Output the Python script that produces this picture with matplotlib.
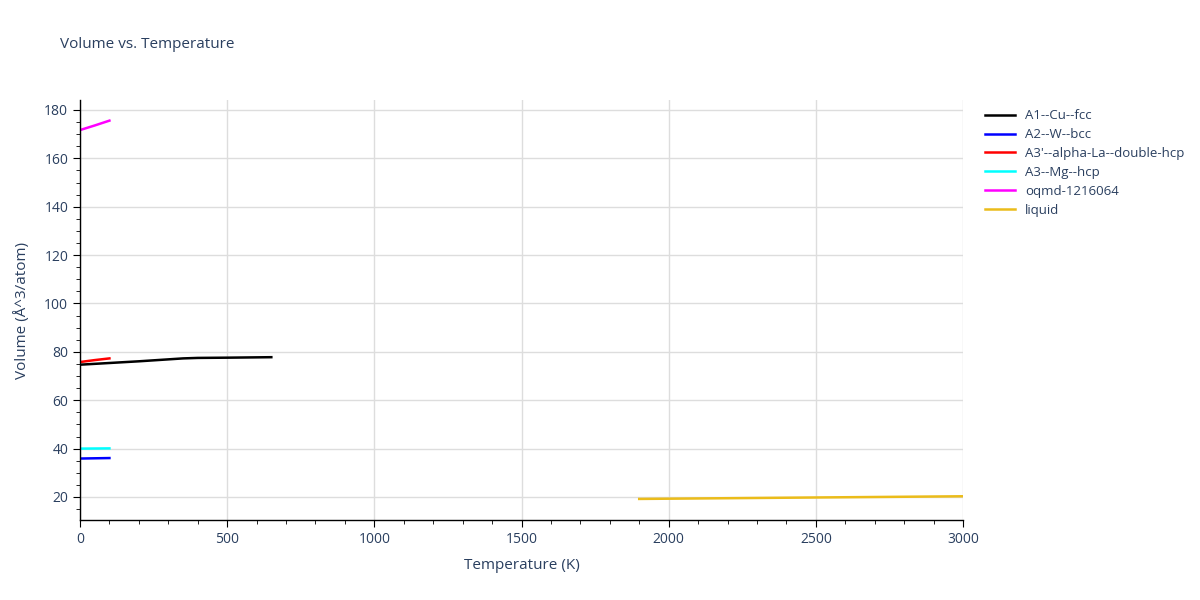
import matplotlib
matplotlib.use("Agg")
import matplotlib.pyplot as plt
from matplotlib.ticker import MultipleLocator

# Data
cu_T = [0, 100, 200, 300, 350, 400, 500, 650]
cu_V = [74.7, 75.4, 76.1, 76.9, 77.3, 77.5, 77.6, 77.8]

w_T = [0, 50, 100]
w_V = [35.9, 36.0, 36.1]

la_T = [0, 50, 100]
la_V = [75.8, 76.6, 77.3]

mg_T = [0, 50, 100]
mg_V = [40.0, 40.05, 40.1]

oq_T = [0, 50, 100]
oq_V = [171.7, 173.6, 175.6]

liq_T = [1900, 2200, 2500, 2800, 3000]
liq_V = [19.2, 19.5, 19.8, 20.1, 20.3]

series = [
    ("A1--Cu--fcc", cu_T, cu_V, "#000000"),
    ("A2--W--bcc", w_T, w_V, "#0000ff"),
    ("A3'--alpha-La--double-hcp", la_T, la_V, "#ff0000"),
    ("A3--Mg--hcp", mg_T, mg_V, "#00ffff"),
    ("oqmd-1216064", oq_T, oq_V, "#ff00ff"),
    ("liquid", liq_T, liq_V, "#ebbc1a"),
]

txt = "#2a3f5f"
plt.rcParams['font.family'] = ['Open Sans', 'DejaVu Sans']

fig = plt.figure(figsize=(12, 6), dpi=100)
ax = fig.add_axes([80/1200, 1-520/600, (963-80)/1200, 420/600])

for name, T, V, c in series:
    ax.plot(T, V, color=c, lw=1.8, label=name)

ax.set_xlim(0, 3000)
ax.set_ylim(10.49, 184.13)
ax.xaxis.set_major_locator(MultipleLocator(500))
ax.xaxis.set_minor_locator(MultipleLocator(100))
ax.yaxis.set_major_locator(MultipleLocator(20))
ax.yaxis.set_minor_locator(MultipleLocator(5))
ax.set_yticks([20, 40, 60, 80, 100, 120, 140, 160, 180])
ax.grid(True, which='major', color='#dddddd', lw=1)
ax.set_axisbelow(True)
for s in ['top', 'right']:
    ax.spines[s].set_visible(False)
for s in ['left', 'bottom']:
    ax.spines[s].set_color('black')
    ax.spines[s].set_linewidth(1)
ax.tick_params(which='major', direction='out', length=5, color='black', labelcolor=txt, labelsize=10)
ax.tick_params(which='minor', direction='out', length=3, color='black')

ax.set_xlabel("Temperature (K)", color=txt, fontsize=11, labelpad=8)
ax.set_ylabel("Volume (Å^3/atom)", color=txt, fontsize=11, labelpad=10)
fig.text(60/1200, 1-45/600, "Volume vs. Temperature", color=txt, fontsize=11, va='center')

leg = ax.legend(loc='upper left', bbox_to_anchor=(1.015, 1.0), frameon=False,
                fontsize=9.5, handlelength=2.2, labelspacing=0.45, borderaxespad=0.3)
for t in leg.get_texts():
    t.set_color(txt)

fig.savefig("out.png", dpi=100)
